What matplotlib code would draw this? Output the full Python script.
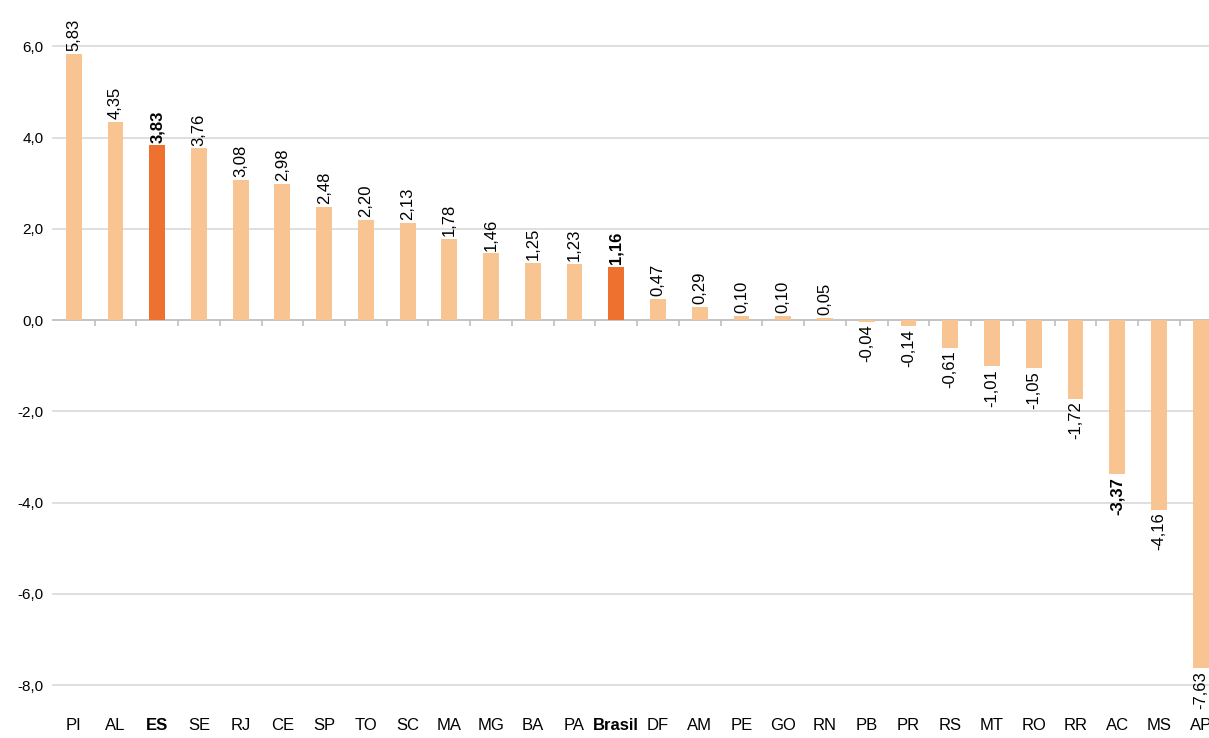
import matplotlib
matplotlib.use("Agg")
import matplotlib.pyplot as plt
import numpy as np

states = ["PI", "AL", "ES", "SE", "RJ", "CE", "SP", "TO", "SC", "MA", "MG", "BA", "PA", "Brasil",
          "DF", "AM", "PE", "GO", "RN", "PB", "PR", "RS", "MT", "RO", "RR", "AC", "MS", "AP"]
values = [5.83, 4.35, 3.83, 3.76, 3.08, 2.98, 2.48, 2.20, 2.13, 1.78, 1.46, 1.25, 1.23, 1.16,
          0.47, 0.29, 0.10, 0.10, 0.05, -0.04, -0.14, -0.61, -1.01, -1.05, -1.72, -3.37, -4.16, -7.63]
highlight = ["ES", "Brasil"]
bold_labels = ["ES", "Brasil", "AC"]

light = "#F8C491"
dark = "#EE7130"

plt.rcParams["font.family"] = ["Liberation Sans", "DejaVu Sans"]
fig = plt.figure(figsize=(12.09, 7.38), dpi=100)
ax = fig.add_axes([0.043, 0.053, 0.957, 0.94])

x = np.arange(len(states))
colors = [dark if s in highlight else light for s in states]
ax.bar(x, values, width=0.38, color=colors, zorder=3)

for xi, v, s in zip(x, values, states):
    txt = f"{v:.2f}".replace(".", ",")
    weight = "bold" if s in bold_labels else "normal"
    if v >= 0:
        ax.annotate(txt, (xi, v), xytext=(0, 2), textcoords="offset points", rotation=90,
                    ha="center", va="bottom", fontsize=12, fontweight=weight, annotation_clip=False)
    else:
        ax.annotate(txt, (xi, v), xytext=(0, -2), textcoords="offset points", rotation=90,
                    ha="center", va="top", fontsize=12, fontweight=weight, annotation_clip=False)

yt = np.arange(-8, 7, 2)
ax.set_yticks(yt)
ax.set_yticklabels([f"{t:.1f}".replace(".", ",") for t in yt], fontsize=11)
ax.set_ylim(-8.3, 6.9)
ax.set_xlim(-0.52, 27.2)
ax.grid(axis="y", color="#D9D9D9", linewidth=1.2, zorder=0)
ax.axhline(0, color="#BFBFBF", linewidth=1.2, zorder=2)
ax.vlines(x[:-1] + 0.5, -0.12, 0, color="#BFBFBF", linewidth=1.2, zorder=2)

ax.set_xticks(x)
ax.set_xticklabels(states, fontsize=12)
for lab in ax.get_xticklabels():
    if lab.get_text() in highlight:
        lab.set_fontweight("bold")
ax.tick_params(axis="x", length=0, pad=14)
ax.tick_params(axis="y", length=0, pad=6)
for sp in ax.spines.values():
    sp.set_visible(False)

fig.savefig("out.png", dpi=100)
